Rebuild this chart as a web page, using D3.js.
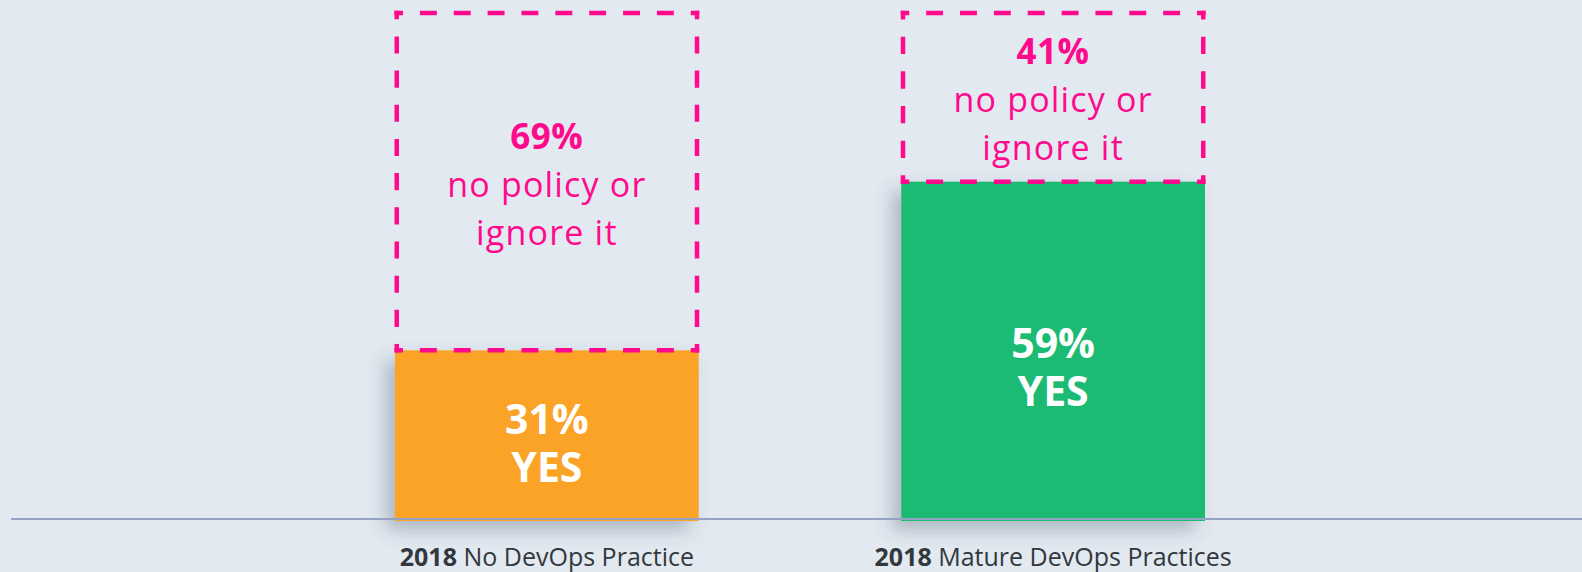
<!DOCTYPE html>
<html>
<head>
<meta charset="utf-8">
<style>
  html, body { margin: 0; padding: 0; background: #e2e9f0; }
  svg { display: block; }
  text { font-variant-ligatures: none; }
</style>
</head>
<body>
<div id="chart"></div>
<script src="https://d3js.org/d3.v7.min.js"></script>
<script>
(function() {
    // --- data ---
    const categories = ["No DevOps Practice", "Mature DevOps Practices"];
    const years = ["2018", "2018"];
    const yesValues = [31, 59];
    const noValues = [69, 41];
    const yesLabel = "YES";
    const noLabelLines = ["no policy or", "ignore it"];

    const width = 1582;
    const height = 572;
    const baselineY = 519;
    const topY = 13;

    const svg = d3.select("#chart")
        .append("svg")
        .attr("width", width)
        .attr("height", height);

    // background
    svg.append("rect")
        .attr("width", width)
        .attr("height", height)
        .attr("fill", "#e2e9f0");

    // soft drop shadow behind the solid bars
    const defs = svg.append("defs");
    const f = defs.append("filter")
        .attr("id", "shadow")
        .attr("x", "-30%").attr("y", "-30%")
        .attr("width", "160%").attr("height", "160%");
    f.append("feDropShadow")
        .attr("dx", -9).attr("dy", 9)
        .attr("stdDeviation", 9)
        .attr("flood-color", "#3f5060")
        .attr("flood-opacity", 0.32);

    // scales
    const x = d3.scaleBand()
        .domain(categories)
        .range([395, 1205])
        .paddingInner(0.4)
        .paddingOuter(0);

    // the original is schematic: this domain fits its bar heights
    const y = d3.scaleLinear()
        .domain([3, 87])
        .range([baselineY, topY]);

    const color = d3.scaleOrdinal()
        .domain(categories)
        .range(["#fba328", "#1cbb73"]);

    const pink = "#ff0a8c";
    const rows = categories.map((c, i) => ({ cat: c, year: years[i], yes: yesValues[i], no: noValues[i] }));

    // --- solid YES bars ---
    svg.selectAll(".bar")
        .data(rows)
        .enter()
        .append("rect")
        .attr("class", "bar")
        .attr("x", d => x(d.cat))
        .attr("y", d => y(d.yes))
        .attr("width", x.bandwidth())
        .attr("height", d => baselineY + 2 - y(d.yes))
        .attr("fill", d => color(d.cat))
        .attr("filter", "url(#shadow)");

    // --- dashed remainder boxes (drawn side by side so corners get half dashes) ---
    const sw = 4.5;
    rows.forEach(d => {
        const x0 = x(d.cat) + sw / 2 - 0.5;
        const x1 = x(d.cat) + x.bandwidth() - sw / 2 + 0.5;
        const y0 = y.range()[1];
        const y1 = y(d.yes);
        const sides = [
            [x0 - sw / 2, y0, x1 + sw / 2, y0],
            [x1, y0 - sw / 2, x1, y1 + sw / 2],
            [x1 + sw / 2, y1, x0 - sw / 2, y1],
            [x0, y1 + sw / 2, x0, y0 - sw / 2]
        ];
        sides.forEach(s => {
            const L = Math.hypot(s[2] - s[0], s[3] - s[1]);
            const n = Math.max(1, Math.round(L / 35));
            const p = L / n;
            const dash = p / 2;
            svg.append("line")
                .attr("x1", s[0]).attr("y1", s[1])
                .attr("x2", s[2]).attr("y2", s[3])
                .attr("stroke", pink)
                .attr("stroke-width", sw)
                .attr("stroke-dasharray", `${dash} ${p - dash}`)
                .attr("stroke-dashoffset", dash / 2);
        });
    });

    // --- baseline ---
    svg.append("line")
        .attr("x1", 11).attr("x2", width)
        .attr("y1", baselineY).attr("y2", baselineY)
        .attr("stroke", "#96a2c4")
        .attr("stroke-width", 2);

    const font = "'Open Sans', 'Noto Sans', sans-serif";

    // --- pink labels inside dashed boxes ---
    rows.forEach(d => {
        const cx = x(d.cat) + x.bandwidth() / 2;
        const mid = (y.range()[1] + y(d.yes)) / 2;
        const t = svg.append("text")
            .attr("font-family", font)
            .attr("fill", pink)
            .attr("text-anchor", "middle")
            .attr("x", cx).attr("y", mid - 33);
        t.append("tspan")
            .attr("x", cx)
            .attr("font-size", 35)
            .attr("font-weight", 700)
            .attr("letter-spacing", 0.5)
            .text(d.no + "%");
        noLabelLines.forEach(line => {
            t.append("tspan")
                .attr("x", cx).attr("dy", 48)
                .attr("font-size", 34)
                .attr("font-weight", 400)
                .attr("letter-spacing", 1.2)
                .text(line);
        });
    });

    // --- white labels inside bars ---
    rows.forEach(d => {
        const cx = x(d.cat) + x.bandwidth() / 2;
        const top = y(d.yes);
        const blockMid = top + 0.55 * (baselineY - top);
        const t = svg.append("text")
            .attr("font-family", font)
            .attr("fill", "#ffffff")
            .attr("font-weight", 700)
            .attr("font-size", 41)
            .attr("text-anchor", "middle")
            .attr("x", cx).attr("y", blockMid - 9);
        t.append("tspan").attr("x", cx).text(d.yes + "%");
        t.append("tspan").attr("x", cx).attr("dy", 48).text(yesLabel);
    });

    // --- category labels ---
    rows.forEach(d => {
        const t = svg.append("text")
            .attr("x", x(d.cat) + x.bandwidth() / 2)
            .attr("y", 566)
            .attr("text-anchor", "middle")
            .attr("font-family", font)
            .attr("font-size", 25)
            .attr("fill", "#33383d");
        t.append("tspan").attr("font-weight", 700).text(d.year);
        t.append("tspan").attr("font-weight", 400).text(" " + d.cat);
    });
})();
</script>
</body>
</html>
